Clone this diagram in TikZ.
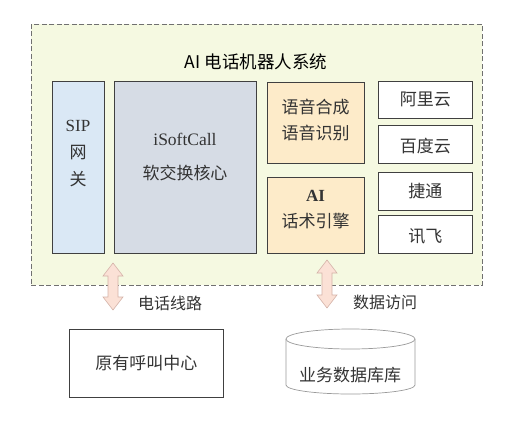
\documentclass[tikz,border=0pt]{standalone}
\usepackage{fontspec}
\setmainfont{Liberation Serif}
\newfontfamily\cjk{Noto Sans CJK SC}
\usetikzlibrary{positioning}
\definecolor{outerfill}{HTML}{F5F9E1}
\definecolor{outerline}{HTML}{707070}
\definecolor{sipfill}{HTML}{DAE8F5}
\definecolor{corefill}{HTML}{D6DCE5}
\definecolor{orfill}{HTML}{FDEBC9}
\definecolor{boxline}{HTML}{404040}
\definecolor{arrfill}{HTML}{FBE1D6}
\definecolor{arrline}{HTML}{D4B2A8}
\definecolor{txt}{HTML}{333333}
\definecolor{cylline}{HTML}{9A9A9A}
\tikzset{
  boxstyle/.style={draw=boxline, line width=0.8pt, anchor=north west, inner sep=0pt},
  lbl/.style={text=txt, inner sep=0pt, align=center, font=\fontsize{17}{26}\selectfont\cjk},
  arrowshape/.style={fill=arrfill, draw=arrline, line width=0.6pt},
}
\begin{document}
\begin{tikzpicture}[x=1pt,y=-1pt]
\useasboundingbox (0,0) rectangle (531,421);
% outer system box
\node[draw=outerline, fill=outerfill, dash pattern=on 5pt off 2.5pt, line width=0.7pt, anchor=north west, inner sep=0pt,
      minimum width=451pt, minimum height=261pt] (sys) at (31,24) {};
\node[lbl, font=\fontsize{17.5}{20}\selectfont\cjk, text=black] (title) at (256,62) {AI 电话机器人系统};
% SIP gateway
\node[boxstyle, fill=sipfill, minimum width=52pt, minimum height=172pt] (sip) at (52,81) {};
\node[lbl, font=\fontsize{17}{27}\selectfont\cjk] (siptxt) at (78,154) {{\rmfamily SIP}\\网\\关};
% core
\node[boxstyle, fill=corefill, minimum width=142pt, minimum height=172pt] (core) at (114,81) {};
\node[lbl, font=\fontsize{17}{34}\selectfont\cjk] (coretxt) at (185,157) {{\rmfamily\fontsize{17.5}{34}\selectfont iSoftCall}\\软交换核心};
% speech
\node[boxstyle, fill=orfill, minimum width=97pt, minimum height=81pt] (tts) at (267,82) {};
\node[lbl] (ttstxt) at (315.5,120) {语音合成\\语音识别};
% AI engine
\node[boxstyle, fill=orfill, minimum width=97pt, minimum height=76pt] (ai) at (267,177) {};
\node[lbl] (aitxt) at (315.5,209.5) {{\rmfamily\bfseries AI}\\话术引擎};
% vendors
\node[boxstyle, fill=white, minimum width=94pt, minimum height=37pt] (ali) at (378,81) {};
\node[lbl] (alitxt) at (ali.center) {阿里云};
\node[boxstyle, fill=white, minimum width=94pt, minimum height=38pt] (baidu) at (378,125) {};
\node[lbl] (baidutxt) at ([yshift=-2pt]baidu.center) {百度云};
\node[boxstyle, fill=white, minimum width=94pt, minimum height=38pt] (jt) at (378,172) {};
\node[lbl] (jttxt) at (jt.center) {捷通};
\node[boxstyle, fill=white, minimum width=94pt, minimum height=38pt] (xf) at (378,215) {};
\node[lbl] (xftxt) at ([yshift=-2pt]xf.center) {讯飞};
% bottom: call centre
\node[boxstyle, fill=white, minimum width=154pt, minimum height=68pt] (cc) at (69,329) {};
\node[lbl] (cctxt) at (cc.center) {原有呼叫中心};
% database cylinder
\coordinate (dbtop) at (350.5,339);
\coordinate (dbbot) at (350.5,385);
\draw[draw=cylline, fill=white, line width=0.7pt]
  ([shift={(-64.5,0)}]dbtop) -- ([shift={(-64.5,0)}]dbbot)
  arc[start angle=180, end angle=360, x radius=64.5pt, y radius=9pt]
  -- ([shift={(64.5,0)}]dbtop);
\draw[draw=cylline, fill=white, line width=0.7pt] (dbtop) ellipse[x radius=64.5pt, y radius=10pt];
\node[lbl] (dbtxt) at (350,375) {业务数据库库};
% double arrows
\coordinate (a1) at (113,263);
\coordinate (b1) at (113,310);
\draw[arrowshape] (a1) -- ([shift={(10,13)}]a1) -- ([shift={(5,13)}]a1)
  -- ([shift={(5,-13)}]b1) -- ([shift={(10,-13)}]b1) -- (b1)
  -- ([shift={(-10,-13)}]b1) -- ([shift={(-5,-13)}]b1)
  -- ([shift={(-5,13)}]a1) -- ([shift={(-10,13)}]a1) -- cycle;
\coordinate (a2) at (327,260);
\coordinate (b2) at (327,308);
\draw[arrowshape] (a2) -- ([shift={(10,13)}]a2) -- ([shift={(5,13)}]a2)
  -- ([shift={(5,-13)}]b2) -- ([shift={(10,-13)}]b2) -- (b2)
  -- ([shift={(-10,-13)}]b2) -- ([shift={(-5,-13)}]b2)
  -- ([shift={(-5,13)}]a2) -- ([shift={(-10,13)}]a2) -- cycle;
\node[lbl, font=\fontsize{16}{20}\selectfont\cjk] (line1) at (170,303) {电话线路};
\node[lbl, font=\fontsize{16}{20}\selectfont\cjk] (line2) at (385,302) {数据访问};
\end{tikzpicture}
\end{document}
